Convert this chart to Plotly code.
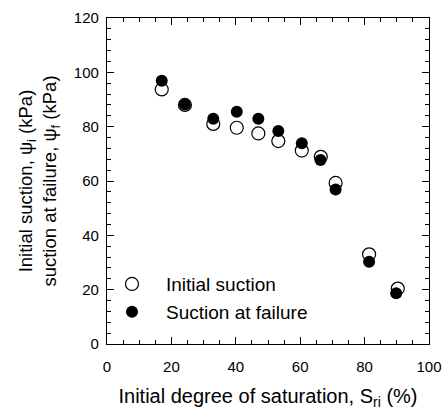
import plotly.graph_objects as go

sat_initial = [17.0, 24.2, 33.0, 40.3, 47.0, 53.2, 60.5, 66.4, 71.0, 81.4, 90.3]
suction_initial = [93.7, 88.0, 81.0, 79.6, 77.5, 74.7, 71.2, 68.9, 59.3, 33.0, 20.4]
sat_failure = [17.0, 24.2, 33.0, 40.3, 47.0, 53.2, 60.5, 66.3, 71.0, 81.4, 89.8]
suction_failure = [96.9, 88.2, 82.9, 85.5, 82.9, 78.4, 73.9, 67.7, 56.9, 30.3, 18.7]

FONT = "Liberation Sans, Arial, sans-serif"

fig = go.Figure()
fig.add_trace(go.Scatter(
    x=sat_initial, y=suction_initial, mode="markers", name="Initial suction",
    marker=dict(symbol="circle-open", size=13, color="black", line=dict(width=1.2, color="black")),
))
fig.add_trace(go.Scatter(
    x=sat_failure, y=suction_failure, mode="markers", name="Suction at failure",
    marker=dict(symbol="circle", size=12, color="black"),
))

axis_common = dict(
    showgrid=False, zeroline=False, showline=True, linecolor="black", linewidth=1.3,
    mirror="allticks", ticks="inside", ticklen=7, tickwidth=1, tickcolor="black",
    tickfont=dict(family=FONT, size=15, color="black"), automargin=False,
)

fig.update_xaxes(
    range=[0, 100], dtick=20, tick0=0, ticklabelstandoff=9,
    minor=dict(dtick=5, ticks="inside", ticklen=4, tickcolor="black", tickwidth=1),
    title=dict(text="Initial degree of saturation, S<sub>ri</sub> (%)",
               font=dict(family=FONT, size=20, color="black"), standoff=16),
    **axis_common,
)
fig.update_yaxes(
    range=[0, 120], dtick=20, tick0=0, ticklabelstandoff=4,
    minor=dict(dtick=4, ticks="inside", ticklen=4, tickcolor="black", tickwidth=1),
    title=dict(text="Initial suction, ψ<sub>i</sub> (kPa)<br>suction at failure, ψ<sub>f</sub> (kPa)",
               font=dict(family=FONT, size=18.5, color="black"), standoff=12),
    **axis_common,
)

fig.update_layout(
    width=443, height=410,
    margin=dict(l=107, r=14, t=18, b=66),
    paper_bgcolor="white", plot_bgcolor="white",
    font=dict(family=FONT, color="black"),
    showlegend=True,
    legend=dict(x=-0.028, y=0.242, xanchor="left", yanchor="top",
                bgcolor="rgba(0,0,0,0)", font=dict(family=FONT, size=19, color="black"),
                itemwidth=58, tracegroupgap=0),
)

fig.write_html("out.html")
